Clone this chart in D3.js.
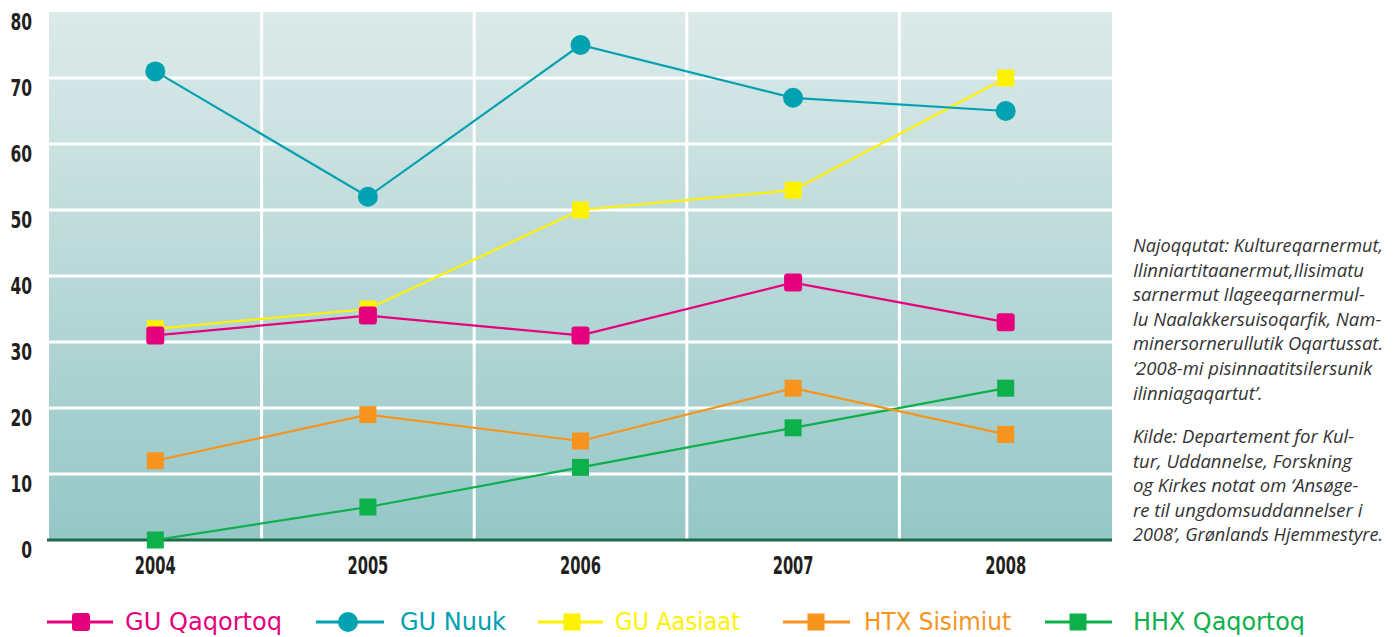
<!DOCTYPE html>
<html><head><meta charset="utf-8">
<script src="https://cdn.jsdelivr.net/npm/d3@7"></script>
<style>body{margin:0;background:#fff;} svg{display:block;}</style>
</head><body>
<script>
const years = ["2004","2005","2006","2007","2008"];
const guQaqortoq = [31, 34, 31, 39, 33];
const guNuuk = [71, 52, 75, 67, 65];
const guAasiaat = [32, 35, 50, 53, 70];
const htxSisimiut = [12, 19, 15, 23, 16];
const hhxQaqortoq = [0, 5, 11, 17, 23];
const seriesNames = ["GU Qaqortoq","GU Nuuk","GU Aasiaat","HTX Sisimiut","HHX Qaqortoq"];
const yTicks = [0,10,20,30,40,50,60,70,80];
const noteLines1 = ["Najoqqutat: Kultureqarnermut,","Ilinniartitaanermut,Ilisimatu","sarnermut Ilageeqarnermul-","lu Naalakkersuisoqarfik, Nam-","minersornerullutik Oqartussat.","\u20182008-mi pisinnaatitsilersunik","ilinniagaqartut\u2019."];
const noteLines2 = ["Kilde: Departement for Kul-","tur, Uddannelse, Forskning","og Kirkes notat om \u2018Ans\u00f8ge-","re til ungdomsuddannelser i","2008\u2019, Gr\u00f8nlands Hjemmestyre."];

const series = [
  {name: seriesNames[0], values: guQaqortoq, color: "#e5007d", shape: "rsquare"},
  {name: seriesNames[1], values: guNuuk, color: "#00a1b1", shape: "circle"},
  {name: seriesNames[2], values: guAasiaat, color: "#fff200", shape: "square"},
  {name: seriesNames[3], values: htxSisimiut, color: "#f7941d", shape: "square"},
  {name: seriesNames[4], values: hhxQaqortoq, color: "#0db04b", shape: "square"}
];

const W = 1400, H = 637;
const svg = d3.select("body").append("svg").attr("width", W).attr("height", H);
const L = 49, R = 1112, T = 12, B = 540;
const x = d3.scaleBand().domain(years).range([L, R]);
const y = d3.scaleLinear().domain([0, 80]).range([B, T]);

const defs = svg.append("defs");
const grad = defs.append("linearGradient").attr("id","bg").attr("x1",0).attr("y1",0).attr("x2",0).attr("y2",1);
grad.append("stop").attr("offset","0%").attr("stop-color","#dceae9");
grad.append("stop").attr("offset","100%").attr("stop-color","#95c7c7");

svg.append("rect").attr("x", L).attr("y", T).attr("width", R - L).attr("height", B - T).attr("fill", "url(#bg)");

svg.append("g").selectAll("line").data(yTicks.filter(d => d > 0 && d < 80)).join("line")
  .attr("x1", L).attr("x2", R).attr("y1", d => y(d)).attr("y2", d => y(d))
  .attr("stroke", "#fff").attr("stroke-width", 3);
svg.append("g").selectAll("line").data(years.slice(1)).join("line")
  .attr("x1", d => x(d)).attr("x2", d => x(d)).attr("y1", T).attr("y2", B)
  .attr("stroke", "#fff").attr("stroke-width", 3);

svg.append("line").attr("x1", L - 2).attr("x2", R).attr("y1", y(0)).attr("y2", y(0))
  .attr("stroke", "#1d6b47").attr("stroke-width", 3);

const condFont = "'Liberation Sans Narrow','DejaVu Sans Condensed',sans-serif";
function condense(sel, k) {
  sel.each(function() {
    const w = this.getComputedTextLength();
    d3.select(this).attr("textLength", w * k).attr("lengthAdjust", "spacingAndGlyphs");
  });
}
const yAxis = d3.axisLeft(y).tickValues(yTicks).tickSize(0).tickPadding(0);
const yg = svg.append("g").attr("transform", `translate(32,10)`).call(yAxis);
yg.select(".domain").remove();
yg.selectAll("text").attr("font-family", condFont)
  .attr("font-weight", "bold").attr("font-size", 23).attr("fill", "#231f20").attr("dy","0.32em");
condense(yg.selectAll("text"), 0.75);

const xAxis = d3.axisBottom(x).tickSize(0).tickPadding(0);
const xg = svg.append("g").attr("transform", `translate(0,566)`).call(xAxis);
xg.select(".domain").remove();
xg.selectAll("text").attr("font-family", condFont)
  .attr("font-weight", "bold").attr("font-size", 24).attr("fill", "#231f20").attr("dy","0.32em");
condense(xg.selectAll("text"), 0.68);

const cx = d => x(d) + x.bandwidth() / 2;
const line = d3.line().x(d => cx(d.year)).y(d => y(d.v));

function drawMarker(g, shape, color, px, py) {
  if (shape === "circle") {
    g.append("circle").attr("cx", px).attr("cy", py).attr("r", 10).attr("fill", color);
  } else if (shape === "rsquare") {
    g.append("rect").attr("x", px - 9).attr("y", py - 9).attr("width", 18).attr("height", 18).attr("rx", 3).attr("fill", color);
  } else {
    g.append("rect").attr("x", px - 8.5).attr("y", py - 8.5).attr("width", 17).attr("height", 17).attr("fill", color);
  }
}

const drawOrder = [4, 3, 2, 0, 1];
drawOrder.forEach(i => {
  const s = series[i];
  const pts = s.values.map((v, j) => ({year: years[j], v}));
  svg.append("path").datum(pts).attr("d", line).attr("fill", "none").attr("stroke", s.color).attr("stroke-width", 2.2);
});
drawOrder.forEach(i => {
  const s = series[i];
  const g = svg.append("g");
  s.values.forEach((v, j) => drawMarker(g, s.shape, s.color, cx(years[j]), y(v)));
});

const legendPos = [
  {lx1: 47, lx2: 113, mx: 81, tx: 125, tw: 157},
  {lx1: 316, lx2: 384, mx: 348, tx: 400, tw: 106},
  {lx1: 538, lx2: 603, mx: 572, tx: 615, tw: 125},
  {lx1: 783, lx2: 850, mx: 816, tx: 864, tw: 147},
  {lx1: 1045, lx2: 1112, mx: 1078, tx: 1133, tw: 172}
];
const ly = 622;
series.forEach((s, i) => {
  const p = legendPos[i];
  const g = svg.append("g");
  g.append("line").attr("x1", p.lx1).attr("x2", p.lx2).attr("y1", ly).attr("y2", ly).attr("stroke", s.color).attr("stroke-width", 3);
  drawMarker(g, s.shape, s.color, p.mx, ly);
  g.append("text").attr("x", p.tx).attr("y", 630)
    .attr("font-family", condFont)
    .attr("font-size", 25).attr("fill", s.color)
    .attr("textLength", p.tw).attr("lengthAdjust", "spacingAndGlyphs")
    .text(s.name);
});

const nf = "'Open Sans','DejaVu Sans',sans-serif";
const notes = svg.append("g").attr("font-family", nf).attr("font-style", "italic").attr("font-size", 18.5).attr("fill", "#333");
function addNote(t, yy) {
  const el = notes.append("text").attr("x", 1133).attr("y", yy).text(t);
  const w = el.node().getComputedTextLength();
  if (w > 250) el.attr("textLength", 250).attr("lengthAdjust", "spacingAndGlyphs");
}
noteLines1.forEach((t, i) => addNote(t, 252 + i * 24.6));
noteLines2.forEach((t, i) => addNote(t, 443 + i * 24.6));
</script>
</body></html>
